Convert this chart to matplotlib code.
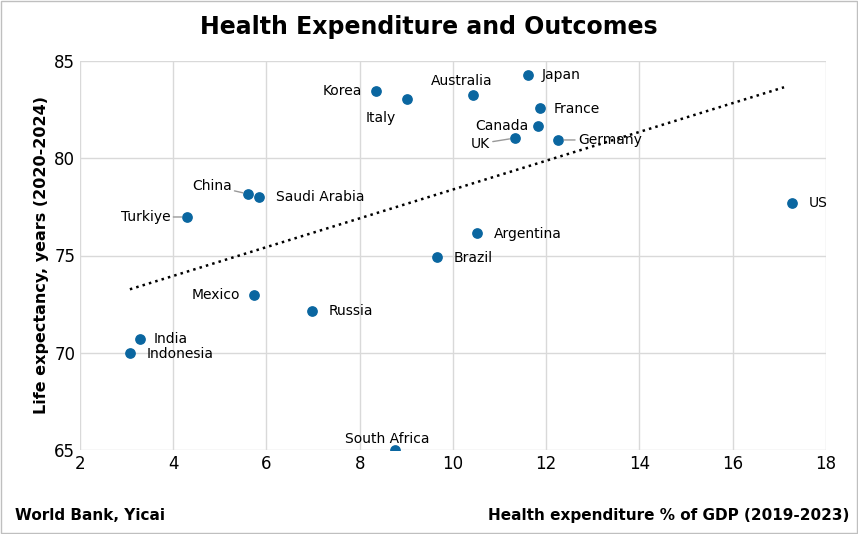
import numpy as np
import matplotlib.pyplot as plt

countries = ["Japan", "Korea", "Italy", "Australia", "France", "Canada", "UK", "Germany",
             "China", "Saudi Arabia", "Turkiye", "US", "Argentina", "Brazil", "Mexico",
             "Russia", "India", "Indonesia", "South Africa"]
health_exp = [11.61, 8.35, 9.02, 10.43, 11.87, 11.83, 11.33, 12.26,
              5.61, 5.84, 4.30, 17.28, 10.52, 9.66, 5.73, 6.98, 3.29, 3.07, 8.76]
life_exp = [84.28, 83.46, 83.05, 83.25, 82.58, 81.66, 81.04, 80.94,
            78.16, 78.00, 76.98, 77.70, 76.16, 74.92, 72.97, 72.15, 70.70, 69.99, 65.0]

# label offsets in points (dx, dy, ha)
offsets = {
    "Japan": (10, 0, "left"), "Korea": (-10, 0, "right"), "Italy": (-8, -14, "right"),
    "Australia": (-8, 10, "center"), "France": (10, -1, "left"), "Canada": (-7, 0, "right"),
    "UK": (-18, -4, "right"), "Germany": (14, 0, "left"), "China": (-12, 6, "right"),
    "Saudi Arabia": (12, 0, "left"), "Turkiye": (-12, 0, "right"), "US": (12, 0, "left"),
    "Argentina": (12, -1, "left"), "Brazil": (12, -1, "left"), "Mexico": (-10, 0, "right"),
    "Russia": (12, 0, "left"), "India": (10, 0, "left"), "Indonesia": (12, -1, "left"),
    "South Africa": (-6, 8, "center"),
}
leaders = {"China", "Turkiye", "UK", "Germany"}

fig = plt.figure(figsize=(8.58, 5.34), dpi=100)
ax = fig.add_axes([80/858, 84/534, 746/858, 389/534])
col = "#0a66a0"
ax.scatter(health_exp, life_exp, s=45, color=col, zorder=3)

m, c = np.polyfit(health_exp, life_exp, 1)
xs = np.array([3.07, 17.1])
ax.plot(xs, m * xs + c, ":", color="black", lw=1.8)

for name, x, y in zip(countries, health_exp, life_exp):
    dx, dy, ha = offsets[name]
    ax.annotate(name, (x, y), xytext=(dx, dy), textcoords="offset points",
                ha=ha, va="center", fontsize=10,
                arrowprops=dict(arrowstyle="-", color="#999999", lw=1,
                                shrinkA=0, shrinkB=4) if name in leaders else None)

ax.set_xlim(2, 18)
ax.set_ylim(65, 85)
ax.set_xticks(range(2, 19, 2))
ax.set_yticks(range(65, 86, 5))
ax.tick_params(labelsize=12, length=0)
ax.grid(True, color="#d9d9d9", lw=1)
ax.set_axisbelow(True)
for s in ax.spines.values():
    s.set_visible(False)
ax.set_ylabel("Life expectancy, years (2020-2024)", fontsize=11.5, fontweight="bold")
fig.text(0.5, 0.95, "Health Expenditure and Outcomes", ha="center", va="center",
         fontsize=17, fontweight="bold")
fig.text(0.018, 0.035, "World Bank, Yicai", fontsize=11, fontweight="bold", va="center")
fig.text(0.99, 0.035, "Health expenditure % of GDP (2019-2023)", fontsize=11,
         fontweight="bold", ha="right", va="center")
fig.patches.append(plt.Rectangle((0.001, 0.001), 0.998, 0.998, transform=fig.transFigure,
                                 fill=False, edgecolor="#bfbfbf", lw=1))
fig.savefig("out.png", dpi=100)
